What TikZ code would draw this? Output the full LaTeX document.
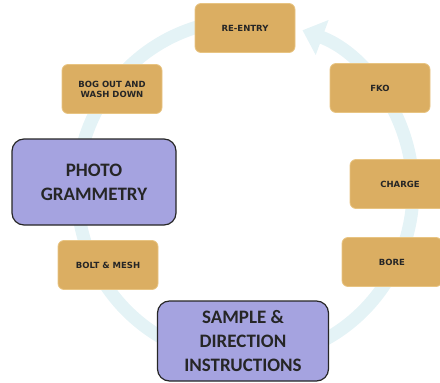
\documentclass[tikz,border=0pt]{standalone}
\usepackage{fontspec}
\setmainfont{Carlito}
\newfontfamily\stepfont{DejaVu Sans}
\usetikzlibrary{arrows.meta}
\definecolor{ringcol}{RGB}{228,243,246}
\definecolor{stepcol}{RGB}{219,174,98}
\definecolor{stepline}{RGB}{232,196,130}
\definecolor{keycol}{RGB}{165,163,224}

\begin{document}
\begin{tikzpicture}[x=1pt,y=-1pt,
			box/.style={rounded corners=6pt,align=center,inner sep=2pt,text=black!85},
			stepbox/.style={box,fill=stepcol,draw=stepline,line width=0.8pt,minimum width=100pt,minimum height=49pt,font=\stepfont\fontsize{8.5}{10}\selectfont\bfseries},
			keybox/.style={box,fill=keycol,draw=black!85,line width=1.2pt,rounded corners=12pt,font=\fontsize{19}{24}\selectfont\bfseries}]
			\useasboundingbox (0,0) rectangle (440,383);
			% cycle arrow behind the boxes
			\draw[ringcol,line width=13pt,-{Triangle[width=36pt,length=21pt]}]
				(245,190) ++(-100:168 and 170) arc[start angle=-100,end angle=-430,x radius=168,y radius=170];
			\node[stepbox] (reentry) at (245,28) {RE-ENTRY};
			\node[stepbox] (fko) at (380,88) {FKO};
			\node[stepbox] (charge) at (400,184) {CHARGE};
			\node[stepbox] (bore) at (392,262) {BORE};
			\node[keybox,minimum width=171pt,minimum height=80pt] (sample) at (243,341) {SAMPLE \&\\DIRECTION\\INSTRUCTIONS};
			\node[stepbox] (bolt) at (108,265) {BOLT \& MESH};
			\node[keybox,minimum width=164pt,minimum height=86pt] (photo) at (94,182) {PHOTO\\GRAMMETRY};
			\node[stepbox] (bog) at (112,89) {BOG OUT AND\\WASH DOWN};
		\end{tikzpicture}
\end{document}
